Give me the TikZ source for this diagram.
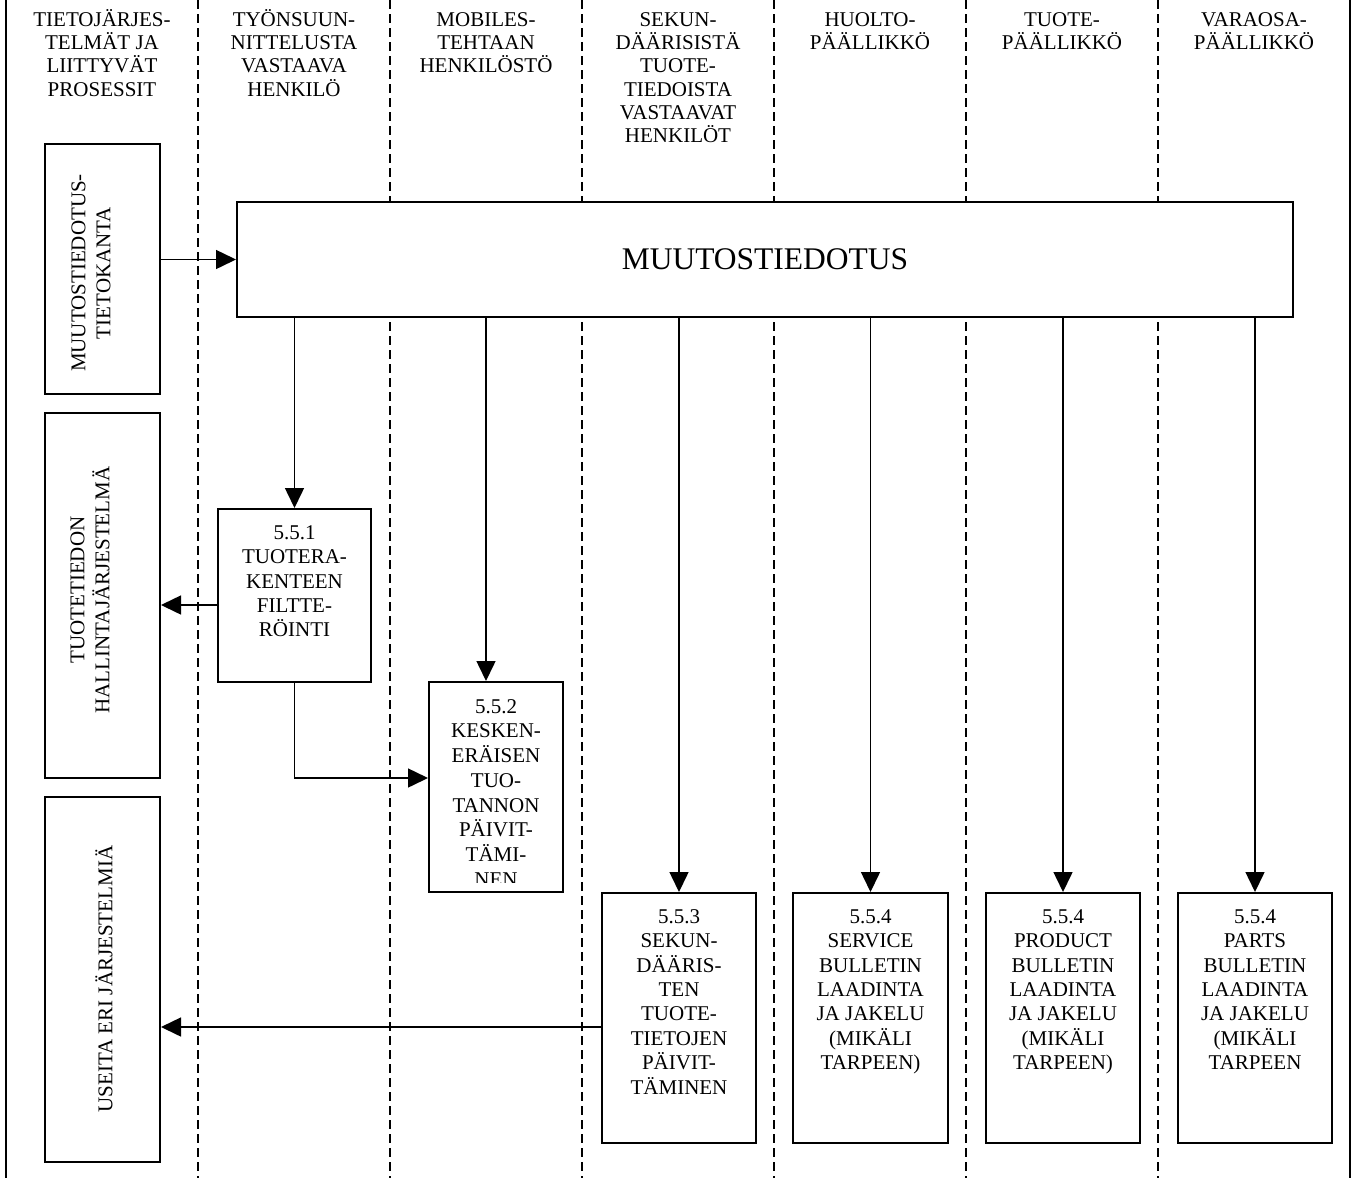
\documentclass[tikz,border=0pt]{standalone}
\usepackage{fontspec}
\setmainfont{Liberation Serif}
\usetikzlibrary{arrows.meta}
\newcommand\hfnt{\fontsize{21}{23.3}\selectfont}
\newcommand\bfnt{\fontsize{21}{24.4}\selectfont}
\newcommand\cfnt{\fontsize{21}{24.7}\selectfont}
\newcommand\rfnt{\fontsize{21}{25}\selectfont}
\newcommand\fl{\rule{0pt}{20pt}}
\begin{document}
\begin{tikzpicture}[x=1pt,y=-1pt,
  lanedash/.style={line width=1.3pt, dash pattern=on 9pt off 5pt},
  laneouter/.style={line width=2pt},
  box/.style={draw, line width=2pt, fill=white, inner sep=0pt},
  hdr/.style={anchor=north, align=center, inner sep=0pt, font=\hfnt},
  btxt/.style={anchor=north, align=center, inner sep=0pt, font=\bfnt},
  rtxt/.style={rotate=90, align=center, inner sep=0pt, font=\rfnt},
  arr/.style={line width=1.5pt, -{Triangle[length=20pt,width=19pt]}},
  ln/.style={line width=1.5pt}
]
\useasboundingbox (0,0) rectangle (1359,1178);
% lanes
\draw[laneouter] (6,0) -- (6,1178);
\draw[laneouter] (1350,0) -- (1350,1178);
\foreach \x in {198,390,582,774,966,1158} \draw[lanedash] (\x,0) -- (\x,1178);
% headers
\node[hdr] (h1) at (102,6) {\fl TIETOJÄRJES-\\TELMÄT JA\\LIITTYVÄT\\PROSESSIT};
\node[hdr] (h2) at (294,6) {\fl TYÖNSUUN-\\NITTELUSTA\\VASTAAVA\\HENKILÖ};
\node[hdr] (h3) at (486,6) {\fl MOBILES-\\TEHTAAN\\HENKILÖSTÖ};
\node[hdr] (h4) at (678,6) {\fl SEKUN-\\DÄÄRISISTÄ\\TUOTE-\\TIEDOISTA\\VASTAAVAT\\HENKILÖT};
\node[hdr] (h5) at (870,6) {\fl HUOLTO-\\PÄÄLLIKKÖ};
\node[hdr] (h6) at (1062,6) {\fl TUOTE-\\PÄÄLLIKKÖ};
\node[hdr] (h7) at (1254,6) {\fl VARAOSA-\\PÄÄLLIKKÖ};
% big box
\node[box, minimum width=1056pt, minimum height=115pt, font=\fontsize{31.5}{36}\selectfont] (big) at (765,259.5) {MUUTOSTIEDOTUS};
% side boxes
\node[box, minimum width=115pt, minimum height=250pt] (sb1) at (102.5,269) {};
\node[box, minimum width=115pt, minimum height=365pt] (sb2) at (102.5,595.5) {};
\node[box, minimum width=115pt, minimum height=365pt] (sb3) at (102.5,979.5) {};
\node[rtxt] (sbt1) at (91,273) {MUUTOSTIEDOTUS-\\TIETOKANTA};
\node[rtxt] (sbt2) at (90,590) {TUOTETIEDON\\HALLINTAJÄRJESTELMÄ};
\node[rtxt] (sbt3) at (104,979) {USEITA ERI JÄRJESTELMIÄ};
% process boxes
\node[box, minimum width=153pt, minimum height=173pt] (b1) at (294.5,595.5) {};
\node[box, minimum width=134pt, minimum height=210pt] (b2) at (496,787) {};
\node[box, minimum width=154pt, minimum height=250pt] (b3) at (679,1018) {};
\node[box, minimum width=155pt, minimum height=250pt] (b4) at (870.5,1018) {};
\node[box, minimum width=154pt, minimum height=250pt] (b5) at (1063,1018) {};
\node[box, minimum width=154pt, minimum height=250pt] (b6) at (1255,1018) {};
\node[btxt] (t1) at (294.5,519) {\fl 5.5.1\\TUOTERA-\\KENTEEN\\FILTTE-\\RÖINTI};
\begin{scope}
\clip (430,683) rectangle (562,882);
\node[btxt, font=\cfnt] (t2) at (496,693) {\fl 5.5.2\\KESKEN-\\ERÄISEN\\TUO-\\TANNON\\PÄIVIT-\\TÄMI-\\NEN};
\end{scope}
\node[btxt] (t3) at (679,903) {\fl 5.5.3\\SEKUN-\\DÄÄRIS-\\TEN\\TUOTE-\\TIETOJEN\\PÄIVIT-\\TÄMINEN};
\node[btxt] (t4) at (870.5,903) {\fl 5.5.4\\SERVICE\\BULLETIN\\LAADINTA\\JA JAKELU\\(MIKÄLI\\TARPEEN)};
\node[btxt] (t5) at (1063,903) {\fl 5.5.4\\PRODUCT\\BULLETIN\\LAADINTA\\JA JAKELU\\(MIKÄLI\\TARPEEN)};
\node[btxt] (t6) at (1255,903) {\fl 5.5.4\\PARTS\\BULLETIN\\LAADINTA\\JA JAKELU\\(MIKÄLI\\TARPEEN};
% connectors
\coordinate (x2) at (486,0);
\coordinate (y1) at (0,605);
\coordinate (y2) at (0,778);
\coordinate (y3) at (0,1027);
\draw[arr] (big.west -| sb1.east) -- (big.west);
\draw[arr] (big.south -| b1.north) -- (b1.north);
\draw[arr] (big.south -| x2) -- (b2.north -| x2);
\draw[arr] (big.south -| b3.north) -- (b3.north);
\draw[arr] (big.south -| b4.north) -- (b4.north);
\draw[arr] (big.south -| b5.north) -- (b5.north);
\draw[arr] (big.south -| b6.north) -- (b6.north);
\draw[arr] (b1.west |- y1) -- (sb2.east |- y1);
\draw[arr] (b1.south) |- (b2.west |- y2);
\draw[arr] (b3.west |- y3) -- (sb3.east |- y3);
\end{tikzpicture}
\end{document}
